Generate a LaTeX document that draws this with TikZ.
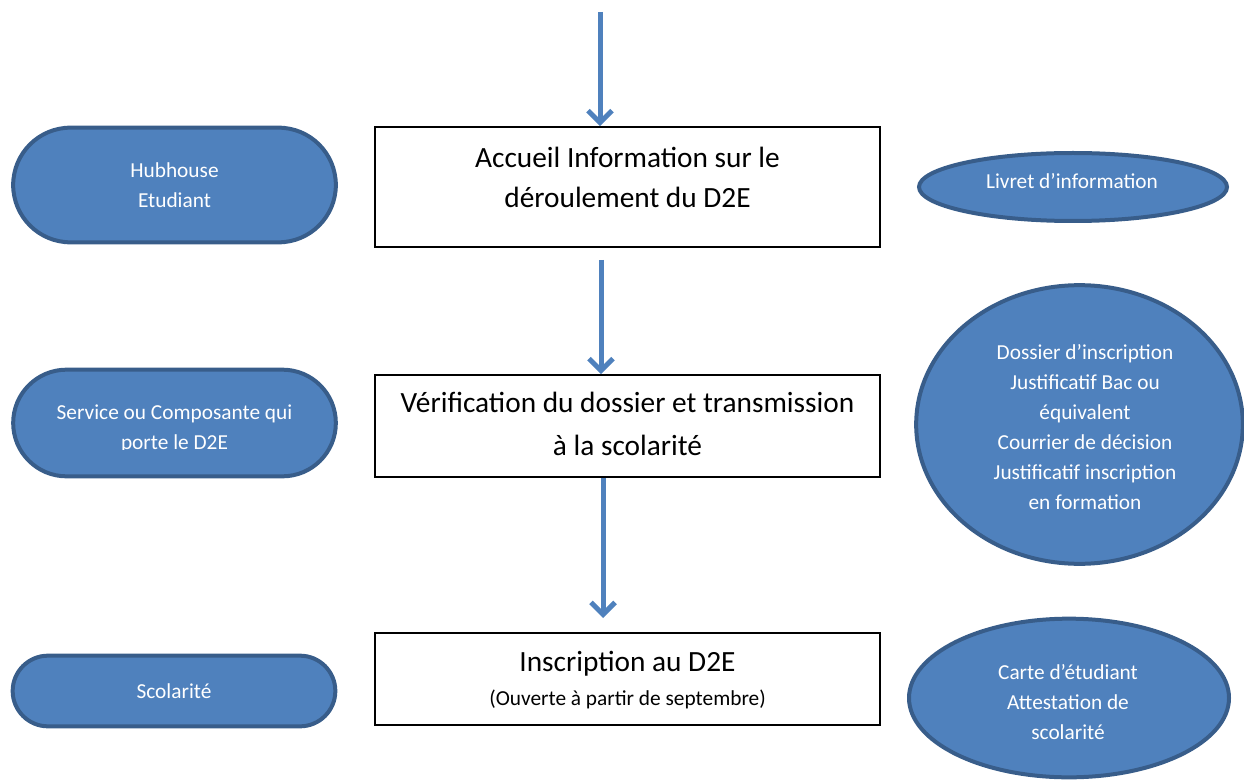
\documentclass[tikz,border=0pt]{standalone}
\usepackage{fontspec}
\setmainfont{Carlito}
\usetikzlibrary{shapes.geometric,shapes.misc,arrows.meta}
\definecolor{shapefill}{HTML}{4F81BD}
\definecolor{shapeline}{HTML}{385D8A}
\definecolor{arrowblue}{HTML}{4F81BD}
\tikzset{
  pill/.style={rounded rectangle, draw=shapeline, fill=shapefill, line width=3pt, inner sep=0pt},
  oval/.style={ellipse, draw=shapeline, fill=shapefill, line width=3pt, inner sep=0pt},
  stepbox/.style={rectangle, draw=black, line width=1.3pt, inner sep=0pt},
  smalltxt/.style={text=white, align=center, font=\fontsize{16}{22.5}\selectfont},
  bigtxt/.style={text=black, align=center, font=\fontsize{22}{30}\selectfont},
  flow/.style={draw=arrowblue, line width=3.75pt, -{Straight Barb[length=9pt,width=18pt]}},
}
\begin{document}
\begin{tikzpicture}[x=0.75pt,y=-0.75pt]
\useasboundingbox (0,0) rectangle (1244,780);
% left pills
\node[pill, minimum width=242pt, minimum height=86pt, smalltxt] (hub) at (174.5,185) {Hubhouse\\Etudiant};
\node[pill, minimum width=242pt, minimum height=80pt] (svc) at (174.5,423) {};
\begin{scope}
  \clip (0,360) rectangle (400,449.5);
  \node[smalltxt, anchor=center] (svct) at (174.5,429) {Service ou Composante qui\\porte le D2E};
\end{scope}
\node[pill, minimum width=242pt, minimum height=53pt, smalltxt] (sco) at (174,691) {Scolarité};
% boxes
\node[stepbox, minimum width=378.75pt, minimum height=90pt] (b1) at (627.5,187) {};
\node[bigtxt] (b1t) at (627.5,177) {Accueil Information sur le\\déroulement du D2E};
\node[stepbox, minimum width=378.75pt, minimum height=76.5pt] (b2) at (627.5,426) {};
\node[bigtxt] (b2t) at (627.5,424) {Vérification du dossier et transmission\\[2pt]à la scolarité};
\node[stepbox, minimum width=378.75pt, minimum height=69pt] (b3) at (627.5,679) {};
\node[bigtxt] (b3t) at (627.5,664) {Inscription au D2E};
\node[text=black, font=\fontsize{16}{20}\selectfont] (b3s) at (627.5,699) {(Ouverte à partir de septembre)};
% right ovals
\node[oval, minimum width=231pt, minimum height=51pt] (liv) at (1073,187) {};
\node[smalltxt] (livt) at (1072,181) {Livret d’information};
\node[oval, minimum width=245pt, minimum height=209pt] (dos) at (1079.5,424.5) {};
\node[smalltxt] (dost) at (1085,427) {Dossier d’inscription\\Justificatif Bac ou\\équivalent\\Courrier de décision\\Justificatif inscription\\en formation};
\node[oval, minimum width=240pt, minimum height=119pt] (car) at (1069,698) {};
\node[smalltxt] (cart) at (1068,702) {Carte d’étudiant\\Attestation de\\scolarité};
% arrows
\coordinate (a1) at (600,12);
\coordinate (a2) at (601,260);
\coordinate (a3) at (603,618);
\draw[flow] (a1) -- (a1 |- b1.north);
\draw[flow] (a2) -- (a2 |- b2.north);
\draw[flow] (a3 |- b2.south) -- (a3);
\end{tikzpicture}
\end{document}
